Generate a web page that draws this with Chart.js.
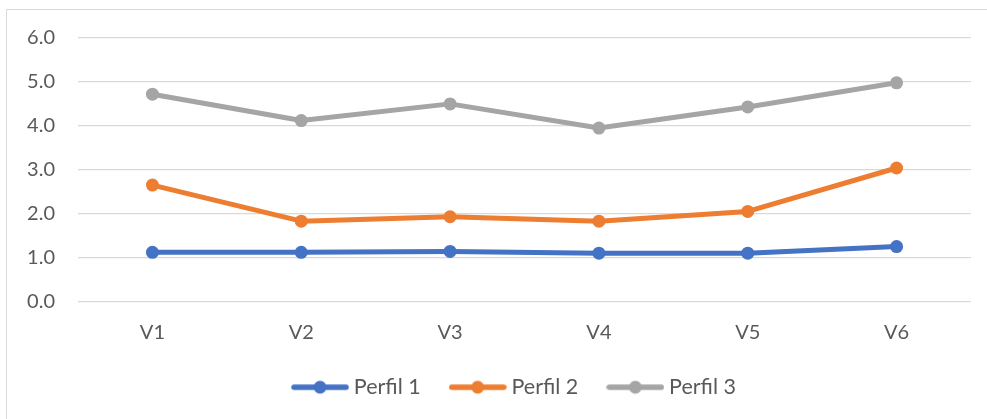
<!DOCTYPE html>
<html>
<head>
<meta charset="utf-8">
<script src="https://cdn.jsdelivr.net/npm/chart.js@4/dist/chart.umd.min.js"></script>
<style>
  html, body { margin: 0; padding: 0; background: #ffffff; }
  #wrap { position: relative; width: 987px; height: 419px; }
</style>
</head>
<body>
<div id="wrap"><canvas id="c" width="987" height="419"></canvas></div>
<script>
const categories = ['V1', 'V2', 'V3', 'V4', 'V5', 'V6'];
const seriesNames = ['Perfil 1', 'Perfil 2', 'Perfil 3'];
const perfil1 = [1.12, 1.12, 1.14, 1.10, 1.10, 1.25];
const perfil2 = [2.65, 1.83, 1.93, 1.83, 2.05, 3.04];
const perfil3 = [4.72, 4.12, 4.50, 3.95, 4.43, 4.98];
const yTicks = [0, 1, 2, 3, 4, 5, 6];

const colors = ['#4472C4', '#ED7D31', '#A5A5A5'];
const FONT = 'Lato, "Open Sans", sans-serif';
const TEXT = '#595959';

function legendIcon(color) {
  const c = document.createElement('canvas');
  c.width = 58; c.height = 16;
  const g = c.getContext('2d');
  g.strokeStyle = color; g.lineWidth = 5.5; g.lineCap = 'round';
  g.beginPath(); g.moveTo(3, 8); g.lineTo(55, 8); g.stroke();
  g.fillStyle = color;
  g.beginPath(); g.arc(29, 8, 6.5, 0, Math.PI * 2); g.fill();
  return c;
}

const frame = {
  id: 'frame',
  afterLayout(chart) {
    if (chart.legend) { chart.legend.left = 62; }
  },
  beforeDraw(chart) {
    const ctx = chart.ctx;
    ctx.save();
    ctx.fillStyle = '#ffffff';
    ctx.fillRect(0, 0, chart.width, chart.height);
    ctx.strokeStyle = '#d9d9d9';
    ctx.lineWidth = 1;
    ctx.beginPath();
    ctx.moveTo(6.5, 419); ctx.lineTo(6.5, 9.5); ctx.lineTo(987, 9.5);
    ctx.stroke();
    ctx.restore();
  }
};

const allSeries = [perfil1, perfil2, perfil3];
const datasets = allSeries.map((d, i) => ({
  label: seriesNames[i],
  data: d,
  borderColor: colors[i],
  backgroundColor: colors[i],
  borderWidth: 5,
  pointRadius: 6.5,
  pointHoverRadius: 6.5,
  pointBorderWidth: 0,
  pointBackgroundColor: colors[i],
  borderJoinStyle: 'round',
  borderCapStyle: 'round',
  tension: 0,
  fill: false,
  pointStyle: 'circle',
  _icon: legendIcon(colors[i]),
  order: 3 - i
}));

new Chart(document.getElementById('c'), {
  type: 'line',
  data: { labels: categories, datasets: datasets },
  options: {
    responsive: false,
    animation: false,
    layout: { padding: { left: 0, right: 16, top: 38, bottom: 11 } },
    plugins: {
      tooltip: { enabled: false },
      legend: {
        position: 'bottom',
        labels: {
          usePointStyle: true,
          pointStyleWidth: 46,
          padding: 34,
          color: TEXT,
          font: { family: FONT, size: 21.5 },
          generateLabels(chart) {
            return chart.data.datasets.map((ds, i) => ({
              text: ds.label,
              fillStyle: ds.borderColor,
              strokeStyle: ds.borderColor,
              lineWidth: 0,
              pointStyle: ds._icon,
              fontColor: TEXT,
              hidden: false,
              datasetIndex: i
            }));
          }
        }
      }
    },
    scales: {
      x: {
        offset: true,
        grid: { display: false, drawTicks: false },
        border: { display: false },
        ticks: { color: TEXT, font: { family: FONT, size: 20 }, padding: 19 },
        afterFit(s) { s.height = 41; }
      },
      y: {
        min: 0, max: 6,
        grid: { color: '#d9d9d9', lineWidth: 1.3, drawTicks: false },
        border: { display: false },
        afterBuildTicks(s) { s.ticks = yTicks.map(v => ({ value: v })); },
        ticks: {
          color: TEXT,
          font: { family: FONT, size: 20 },
          padding: 23,
          callback: v => Number(v).toFixed(1)
        },
        afterFit(s) { s.width = 78; }
      }
    }
  },
  plugins: [frame]
});
</script>
</body>
</html>
